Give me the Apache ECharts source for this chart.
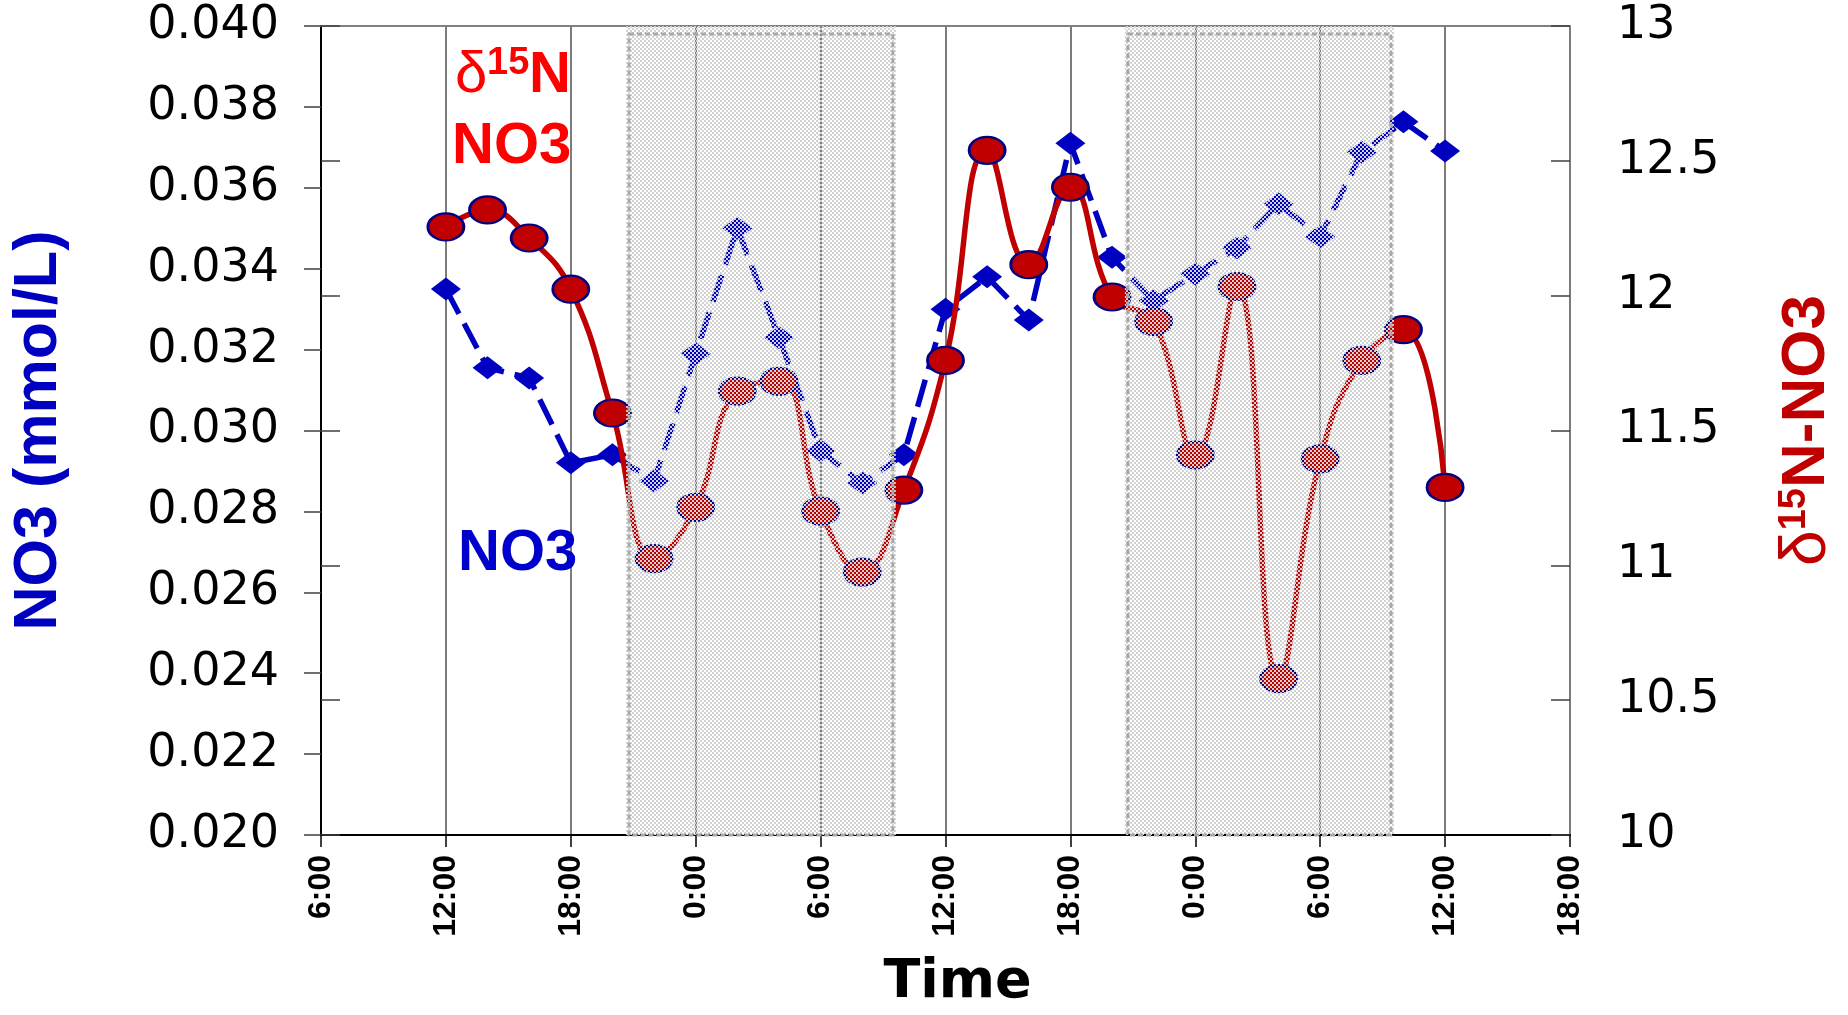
<!DOCTYPE html>
<html>
<head>
<meta charset="utf-8">
<script src="https://cdn.jsdelivr.net/npm/echarts@6/dist/echarts.min.js"></script>
<style>
html,body{margin:0;padding:0;background:#ffffff;}
#chart{width:1848px;height:1015px;}
</style>
</head>
<body>
<div id="chart"></div>
<script>
// Sampling times, in hours after 6:00 on day 1 (axis runs 6:00 day 1 -> 18:00 day 3)
const sampleHours = [6, 8, 10, 12, 14, 16, 18, 20, 22, 24, 26, 28, 30, 32, 34, 36, 38, 40, 42, 44, 46, 48, 50, 52, 54];
// NO3 concentration (mmol/L), left axis
const no3 = [0.0335, 0.03155, 0.0313, 0.0292, 0.0294, 0.02875, 0.0319, 0.0350, 0.0323, 0.0295, 0.0287, 0.0294,
             0.0330, 0.0338, 0.03273, 0.0371, 0.03428, 0.03321, 0.03387, 0.03452, 0.0356, 0.03479, 0.03688, 0.03763, 0.03691];
// delta15N of nitrate, right axis
const d15n = [12.255, 12.318, 12.214, 12.024, 11.565, 11.025, 11.215, 11.646, 11.682, 11.201, 10.975, 11.279,
              11.76, 12.539, 12.115, 12.402, 11.995, 11.904, 11.409, 12.034, 10.58, 11.395, 11.76, 11.874, 11.289];
// Night (shaded) periods, hours after 6:00 day 1
const nightStart = [14.8, 38.76];
const nightEnd = [27.47, 51.4];
// x tick labels (every 6 h from 6:00 day 1)
const xTickLabels = ['6:00', '12:00', '18:00', '0:00', '6:00', '12:00', '18:00', '0:00', '6:00', '12:00', '18:00'];

function checkerCanvas() {
  const c = document.createElement('canvas');
  c.width = 4; c.height = 4;
  const g = c.getContext('2d');
  g.fillStyle = '#d2d2d2';
  g.fillRect(0, 0, 2, 2);
  g.fillRect(2, 2, 2, 2);
  return c;
}
const checker = checkerCanvas();
const ellipsePath = 'path://M0,10A10,10,0,1,1,20,10A10,10,0,1,1,0,10Z';

const chart = echarts.init(document.getElementById('chart'), null, {renderer: 'canvas'});

const option = {
  animation: false,
  backgroundColor: '#ffffff',
  grid: {left: 321, right: 278, top: 26, bottom: 171, containLabel: false},
  xAxis: [
    {
      type: 'value', min: 0, max: 60, interval: 6, position: 'bottom',
      name: 'Time', nameLocation: 'middle', nameGap: 121,
      nameTextStyle: {fontFamily: 'DejaVu Sans', fontWeight: 'bold', fontSize: 54, color: '#000', padding: [0, 0, 0, 24]},
      axisLine: {show: true, lineStyle: {color: '#000', width: 2}},
      axisTick: {show: true, length: 12, lineStyle: {color: '#000', width: 1.5}},
      axisLabel: {
        rotate: 90, margin: 20, fontSize: 32, fontWeight: 'bold', fontFamily: 'Liberation Sans', color: '#000',
        formatter: v => xTickLabels[Math.round(v / 6)]
      },
      splitLine: {show: true, lineStyle: {color: '#505050', width: 1.5}}
    },
    {
      type: 'value', min: 0, max: 60, position: 'top',
      axisLine: {show: true, lineStyle: {color: '#808080', width: 2}},
      axisTick: {show: false}, axisLabel: {show: false}, splitLine: {show: false}
    }
  ],
  yAxis: [
    {
      type: 'value', min: 0.02, max: 0.04, interval: 0.002, position: 'left',
      name: 'NO3 (mmol/L)', nameLocation: 'middle', nameGap: 251,
      nameTextStyle: {fontFamily: 'Liberation Sans', fontWeight: 'bold', fontSize: 61, color: '#0000c0'},
      axisLine: {show: true, lineStyle: {color: '#000', width: 2}},
      axisTick: {show: true, length: 17, lineStyle: {color: '#404040', width: 1.5}},
      axisLabel: {margin: 42, fontFamily: 'DejaVu Sans', fontSize: 46, color: '#000', formatter: v => v.toFixed(3)},
      splitLine: {show: false}
    },
    {
      type: 'value', min: 10, max: 13, interval: 0.5, position: 'right',
      name: '{d|δ}{s|15}{n|N-NO3}', nameLocation: 'middle', nameGap: 206,
      nameTextStyle: {
        color: '#c00000', fontFamily: 'Liberation Sans', fontWeight: 'bold', fontSize: 62,
        rich: {
          d: {color: '#c00000', fontFamily: 'Liberation Sans', fontWeight: 'normal', fontSize: 64, lineHeight: 62},
          s: {color: '#c00000', fontFamily: 'Liberation Sans', fontWeight: 'bold', fontSize: 38, verticalAlign: 'top', lineHeight: 62},
          n: {color: '#c00000', fontFamily: 'Liberation Sans', fontWeight: 'bold', fontSize: 62, lineHeight: 62}
        }
      },
      axisLine: {show: true, lineStyle: {color: '#000', width: 2}},
      axisTick: {show: true, length: 19, lineStyle: {color: '#404040', width: 1.5}},
      axisLabel: {margin: 47, fontFamily: 'DejaVu Sans', fontSize: 46, color: '#000'},
      splitLine: {show: false}
    },
    {
      type: 'value', min: 10, max: 13, interval: 0.5, position: 'right',
      axisLine: {show: false},
      axisTick: {show: true, inside: true, length: 19, lineStyle: {color: '#404040', width: 1.5}},
      axisLabel: {show: false}, splitLine: {show: false}
    }
  ],
  series: [
    {
      name: 'NO3', type: 'line', xAxisIndex: 0, yAxisIndex: 0, z: 3,
      data: sampleHours.map((h, i) => [h, no3[i]]),
      symbol: 'diamond', symbolSize: [30, 23],
      itemStyle: {color: '#0000c0'},
      lineStyle: {color: '#0000c0', width: 5.5, type: [28, 11]}
    },
    {
      name: 'd15N NO3', type: 'line', xAxisIndex: 0, yAxisIndex: 1, z: 4,
      data: sampleHours.map((h, i) => [h, d15n[i]]),
      smooth: 0.45,
      symbol: ellipsePath, symbolSize: [36, 27],
      itemStyle: {color: '#c00000', borderColor: '#000080', borderWidth: 2.5},
      lineStyle: {color: '#c00000', width: 5.5}
    },
    {
      name: 'night', type: 'custom', xAxisIndex: 0, yAxisIndex: 0, z: 10, silent: true,
      data: nightStart.map((s, i) => [s, nightEnd[i]]),
      renderItem: function (params, api) {
        const x0 = api.value(0), x1 = api.value(1);
        const tl = api.coord([x0, 0.0398]);
        const br = api.coord([x1, 0.020]);
        const topP = api.coord([x0, 0.040]);
        return {
          type: 'group',
          children: [
            {type: 'rect', shape: {x: tl[0] - 3, y: topP[1], width: br[0] - tl[0] + 6, height: br[1] - topP[1]},
             style: {fill: {image: checker, repeat: 'repeat'}}},
            {type: 'rect', shape: {x: tl[0], y: tl[1], width: br[0] - tl[0], height: br[1] - tl[1]},
             style: {fill: 'none', stroke: '#a8a8a8', lineWidth: 3, lineDash: [5, 3]}}
          ]
        };
      }
    }
  ],
  graphic: [
    {type: 'text', z: 20, style: {text: 'δ', x: 455, y: 76, fontFamily: 'Liberation Sans', fontSize: 58, fill: '#ff0000', align: 'left', verticalAlign: 'middle'}},
    {type: 'text', z: 20, style: {text: '15', x: 487, y: 64, fontFamily: 'Liberation Sans', fontWeight: 'bold', fontSize: 38, fill: '#ff0000', align: 'left', verticalAlign: 'middle'}},
    {type: 'text', z: 20, style: {text: 'N', x: 529, y: 76, fontFamily: 'Liberation Sans', fontWeight: 'bold', fontSize: 58, fill: '#ff0000', align: 'left', verticalAlign: 'middle'}},
    {type: 'text', z: 20, style: {text: 'NO3', x: 452, y: 147, fontFamily: 'Liberation Sans', fontWeight: 'bold', fontSize: 58, fill: '#ff0000', align: 'left', verticalAlign: 'middle'}},
    {type: 'text', z: 20, style: {text: 'NO3', x: 458, y: 554, fontFamily: 'Liberation Sans', fontWeight: 'bold', fontSize: 58, fill: '#0000cc', align: 'left', verticalAlign: 'middle'}}
  ]
};
chart.setOption(option);
</script>
</body>
</html>
